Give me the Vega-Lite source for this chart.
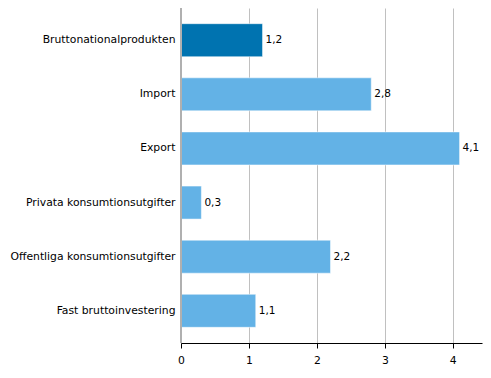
{
  "$schema": "https://vega.github.io/schema/vega-lite/v6.json",
  "width": 301,
  "height": 335,
  "autosize": "none",
  "padding": {"left": 181, "top": 8, "right": 9, "bottom": 35},
  "config": {
    "view": {"stroke": null},
    "font": "DejaVu Sans",
    "locale": {"number": {"decimal": ",", "thousands": " ", "grouping": [3], "currency": ["", " €"]}},
    "axis": {"labelFont": "DejaVu Sans", "labelFontSize": 10.8, "labelColor": "#000000"}
  },
  "data": {
    "values": [
      {"kategori": "Bruttonationalprodukten", "varde": 1.2, "typ": "bnp"},
      {"kategori": "Import", "varde": 2.8, "typ": "ovr"},
      {"kategori": "Export", "varde": 4.1, "typ": "ovr"},
      {"kategori": "Privata konsumtionsutgifter", "varde": 0.3, "typ": "ovr"},
      {"kategori": "Offentliga konsumtionsutgifter", "varde": 2.2, "typ": "ovr"},
      {"kategori": "Fast bruttoinvestering", "varde": 1.1, "typ": "ovr"}
    ]
  },
  "encoding": {
    "y": {
      "field": "kategori",
      "type": "nominal",
      "sort": null,
      "scale": {"paddingInner": 0.39, "paddingOuter": 0.29},
      "axis": {"title": null, "ticks": false, "domain": false, "labelPadding": 6, "grid": false}
    },
    "x": {
      "field": "varde",
      "type": "quantitative",
      "scale": {"domain": [0, 4.43], "nice": false},
      "axis": {
        "title": null,
        "values": [0, 1, 2, 3, 4],
        "format": "d",
        "labelFlush": false,
        "grid": true,
        "gridColor": "#c0c0c0",
        "gridWidth": 1,
        "domainColor": "#000000",
        "tickColor": "#000000",
        "tickSize": 5,
        "labelPadding": 6
      }
    }
  },
  "layer": [
    {
      "mark": {"type": "bar", "stroke": "#ffffff", "strokeWidth": 0.5},
      "encoding": {
        "color": {
          "field": "typ",
          "type": "nominal",
          "scale": {"domain": ["bnp", "ovr"], "range": ["#0073b0", "#63b2e6"]},
          "legend": null
        }
      }
    },
    {
      "mark": {"type": "text", "align": "left", "dx": 3, "fontSize": 10.5, "color": "#000000"},
      "encoding": {
        "text": {"field": "varde", "type": "quantitative", "format": ".1f"}
      }
    },
    {
      "mark": {"type": "rule", "color": "#b0b0b0", "strokeWidth": 2},
      "encoding": {"x": {"datum": 0}, "y": null}
    }
  ]
}
